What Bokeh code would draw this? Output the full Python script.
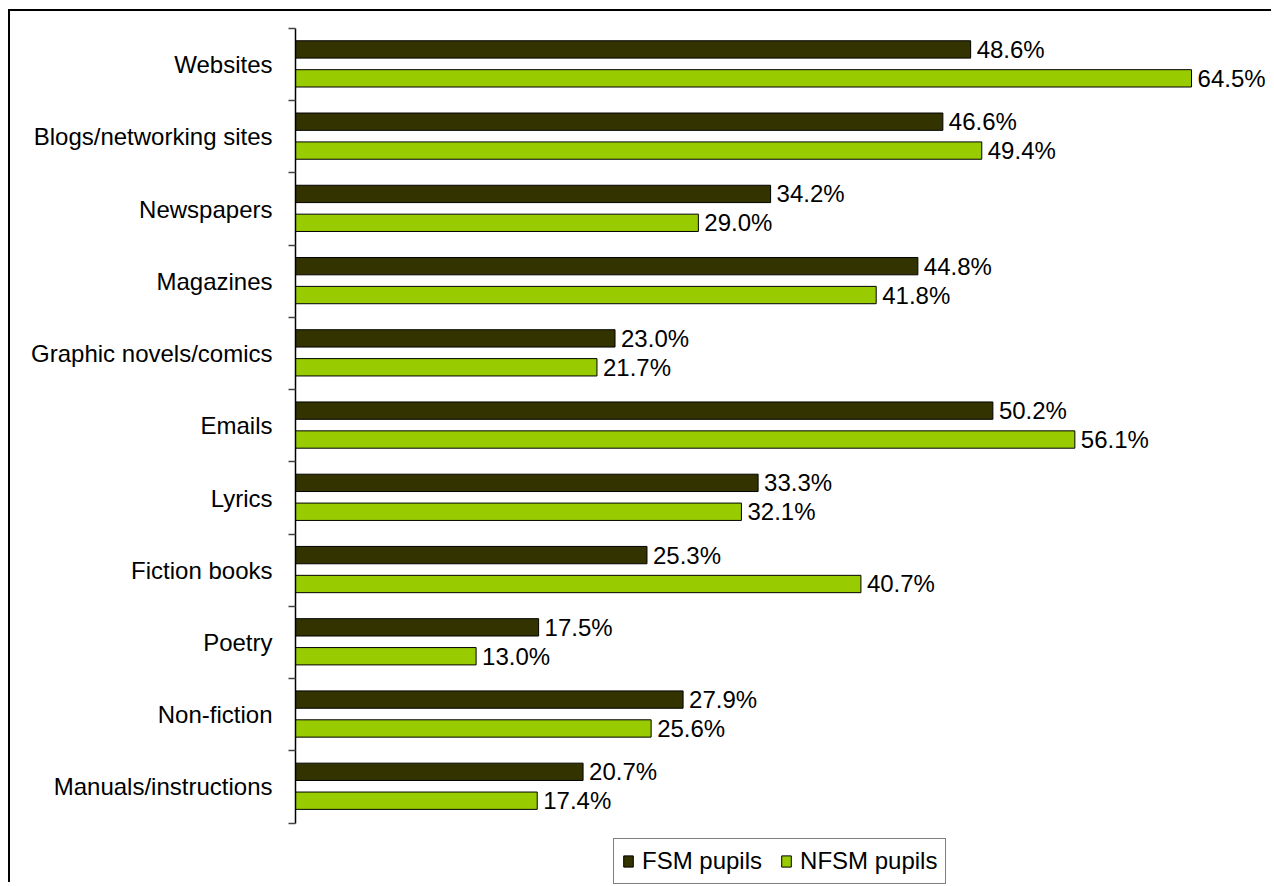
from bokeh.plotting import figure
from bokeh.models import ColumnDataSource, Range1d, FixedTicker, Legend, LegendItem
from bokeh.core.properties import value
from bokeh.embed import file_html
from bokeh.resources import INLINE

categories = ["Websites", "Blogs/networking sites", "Newspapers", "Magazines",
              "Graphic novels/comics", "Emails", "Lyrics", "Fiction books",
              "Poetry", "Non-fiction", "Manuals/instructions"]
fsm = [48.6, 46.6, 34.2, 44.8, 23.0, 50.2, 33.3, 25.3, 17.5, 27.9, 20.7]
nfsm = [64.5, 49.4, 29.0, 41.8, 21.7, 56.1, 32.1, 40.7, 13.0, 25.6, 17.4]
series_names = ["FSM pupils", "NFSM pupils"]
colors = ["#333300", "#99CC00"]

FONT = "Liberation Sans"
n = len(categories)
idx = list(range(n))

p = figure(width=1263, height=873, output_backend="svg", toolbar_location=None,
           x_range=Range1d(0, 70.4), y_range=Range1d(n - 0.5 + 0.85, -0.5),
           min_border_left=285, min_border_right=0, min_border_top=17,
           min_border_bottom=0)
p.styles = {"margin-left": "8px", "margin-top": "9px",
            "border-left": "2px solid black", "border-top": "2px solid black"}
p.outline_line_color = None
p.grid.grid_line_color = None
p.xaxis.visible = False

src_a = ColumnDataSource(dict(y=[i - 0.21 for i in idx], v=fsm,
                              lab=[f"{v:.1f}%" for v in fsm]))
src_b = ColumnDataSource(dict(y=[i + 0.19 for i in idx], v=nfsm,
                              lab=[f"{v:.1f}%" for v in nfsm]))

r1 = p.hbar(y="y", right="v", left=0, height=0.24, source=src_a,
            fill_color=colors[0], line_color="black", line_width=1)
r2 = p.hbar(y="y", right="v", left=0, height=0.24, source=src_b,
            fill_color=colors[1], line_color="black", line_width=1)

for s in (src_a, src_b):
    p.text(x="v", y="y", text="lab", source=s, x_offset=6,
           text_baseline="middle", text_align="left",
           text_font=value(FONT), text_font_size="24px", text_color="black")

yax = p.yaxis[0]
yax.bounds = (-0.5, n - 0.5)
yax.ticker = FixedTicker(ticks=idx, minor_ticks=[i - 0.5 for i in range(n + 1)])
yax.major_label_overrides = {i: c for i, c in zip(idx, categories)}
yax.major_tick_out = 0
yax.major_tick_in = 0
yax.minor_tick_out = 7
yax.minor_tick_in = 0
yax.minor_tick_line_color = "#444444"
yax.minor_tick_line_width = 1.5
yax.axis_line_color = "black"
yax.axis_line_width = 1.5
yax.major_label_standoff = 16
yax.major_label_text_font = FONT
yax.major_label_text_font_size = "24px"
yax.major_label_text_color = "black"

legend = Legend(items=[LegendItem(label=series_names[0], renderers=[r1]),
                       LegendItem(label=series_names[1], renderers=[r2])],
                orientation="horizontal", location=(318, 0),
                label_text_font=FONT, label_text_font_size="24px",
                label_text_color="black",
                glyph_width=12, glyph_height=14, label_standoff=8,
                spacing=18, padding=8, margin=0,
                border_line_color="black", border_line_width=1,
                label_height=26)
p.add_layout(legend, "center")

open("out.html", "w").write(file_html(p, INLINE))
